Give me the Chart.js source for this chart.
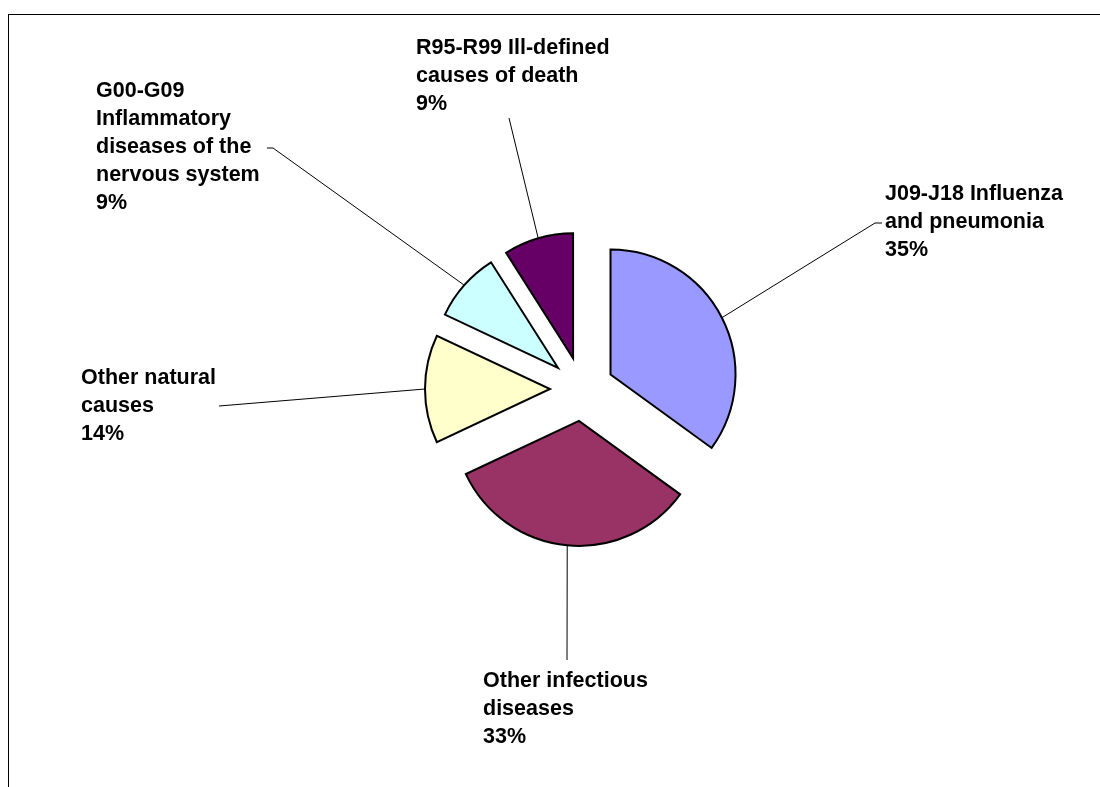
<!DOCTYPE html>
<html><head><meta charset="utf-8">
<script src="https://cdn.jsdelivr.net/npm/chart.js@4.4.0/dist/chart.umd.min.js"></script>
<style>
html,body{margin:0;padding:0;background:#fff;overflow:hidden;}
#wrap{position:relative;width:1100px;height:787px;overflow:hidden;}
#frame{position:absolute;left:8px;top:14px;width:1200px;height:900px;border:1px solid #000;box-sizing:border-box;pointer-events:none;}
canvas{position:absolute;left:0;top:0;}
</style></head><body>
<div id="wrap"><canvas id="c" width="1100" height="787"></canvas><div id="frame"></div></div>
<script>
// ---- data ----
const categories = [
  ['J09-J18 Influenza', 'and pneumonia'],
  ['Other infectious', 'diseases'],
  ['Other natural', 'causes'],
  ['G00-G09', 'Inflammatory', 'diseases of the', 'nervous system'],
  ['R95-R99 Ill-defined', 'causes of death']
];
const shares = [35, 33, 14, 9, 9];
const percentLabels = ['35%', '33%', '14%', '9%', '9%'];
const sliceColors = ['#9999FF', '#993366', '#FFFFCC', '#CCFFFF', '#660066'];

// ---- label layout (positions of annotation text and leader-line elbows) ----
const labelLayout = [
  {x: 885, y: 200,   path: [[875, 223], [882, 223]]},
  {x: 483, y: 687,   path: [[567, 660]]},
  {x: 81,  y: 383.5, path: [[219, 406]]},
  {x: 96,  y: 96.5,  path: [[273, 148], [267, 148]]},
  {x: 416, y: 53.5,  path: [[509, 118]]}
];

const explodePlugin = {
  id: 'explode',
  afterUpdate(chart, args, opts) {
    const meta = chart.getDatasetMeta(0);
    meta.data.forEach(el => {
      if (el._exploded) return;
      const orig = el.draw;
      el.draw = function (ctx) {
        const mid = (this.startAngle + this.endAngle) / 2;
        ctx.save();
        ctx.translate(Math.cos(mid) * opts.distance, Math.sin(mid) * opts.distance);
        orig.call(this, ctx);
        ctx.restore();
      };
      el._exploded = true;
    });
  }
};

const labelPlugin = {
  id: 'sliceLabels',
  afterDraw(chart, args, opts) {
    const ctx = chart.ctx;
    const meta = chart.getDatasetMeta(0);
    const dist = chart.options.plugins.explode.distance;
    ctx.save();
    meta.data.forEach((el, i) => {
      const lay = opts.layout[i];
      const mid = (el.startAngle + el.endAngle) / 2;
      const r = el.outerRadius + dist;
      const ax = el.x + Math.cos(mid) * r;
      const ay = el.y + Math.sin(mid) * r;
      // leader line
      ctx.beginPath();
      ctx.strokeStyle = '#000';
      ctx.lineWidth = 1;
      ctx.lineJoin = 'round';
      ctx.moveTo(ax, ay);
      lay.path.forEach(p => ctx.lineTo(p[0], p[1]));
      ctx.stroke();
      // text
      ctx.fillStyle = '#000';
      ctx.font = opts.font;
      ctx.textBaseline = 'alphabetic';
      ctx.textAlign = 'left';
      const lines = chart.data.labels[i].concat([opts.percents[i]]);
      lines.forEach((t, k) => ctx.fillText(t, lay.x, lay.y + k * opts.lineHeight));
    });
    ctx.restore();
  }
};

new Chart(document.getElementById('c'), {
  type: 'pie',
  data: {
    labels: categories,
    datasets: [{
      data: shares,
      backgroundColor: sliceColors,
      borderColor: '#000',
      borderWidth: 2,
      borderJoinStyle: 'miter',
      offset: 0,
      hoverOffset: 0
    }]
  },
  options: {
    responsive: false,
    devicePixelRatio: 1,
    animation: false,
    radius: 125,
    layout: {padding: {left: 64, right: 0, top: 0, bottom: 9}},
    events: [],
    plugins: {
      legend: {display: false},
      tooltip: {enabled: false},
      explode: {distance: 32},
      sliceLabels: {
        layout: labelLayout,
        percents: percentLabels,
        font: 'bold 21.5px "Liberation Sans", Arial, sans-serif',
        lineHeight: 28
      }
    }
  },
  plugins: [explodePlugin, labelPlugin]
});
</script>
</body></html>
